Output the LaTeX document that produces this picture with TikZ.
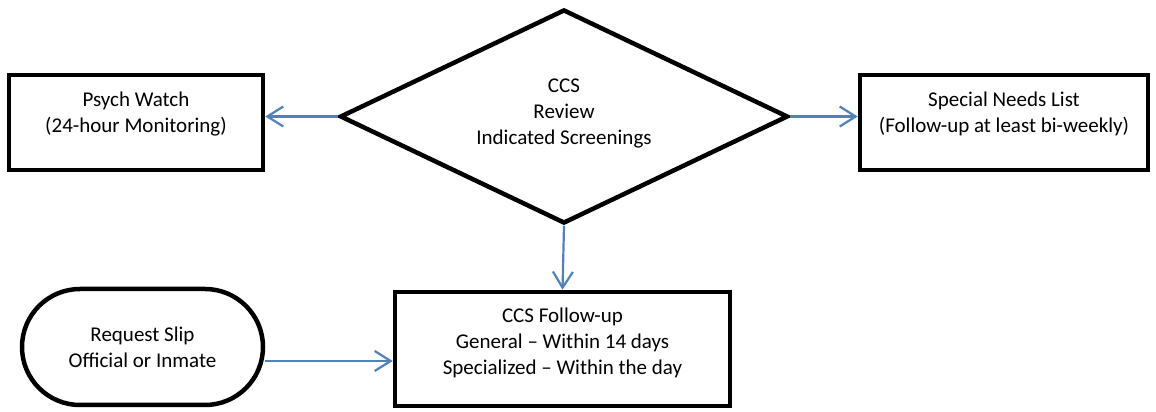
\documentclass[tikz,border=0pt]{standalone}
\usepackage{fontspec}
\setmainfont{Carlito}
\usetikzlibrary{shapes.geometric,arrows.meta}
\definecolor{flowblue}{RGB}{79,129,189}
\begin{document}
\begin{tikzpicture}[x=1pt,y=1pt,
  box/.style={draw, line width=4.5pt, rectangle, inner sep=0pt},
  txt/.style={align=center, font=\fontsize{21}{26}\selectfont},
  flow/.style={draw=flowblue, line width=2.2pt, -{Straight Barb[length=16pt,width=20pt,line width=2.2pt]}}]
\useasboundingbox (0,0) rectangle (1156,412);
\node[box, minimum width=254pt, minimum height=95pt] (psych) at (136,289.5){};
\node[txt] (psycht) at ([yshift=8pt]psych.center){Psych Watch\\(24-hour Monitoring)};
\node[box, diamond, line join=miter, minimum width=448pt, minimum height=214pt, aspect=2.1] (ccs) at (564,295.5){};
\node[txt] (ccst) at ([yshift=3pt]ccs.center){CCS\\Review\\Indicated Screenings};
\node[box, minimum width=288pt, minimum height=95pt] (special) at (1004,289.5){};
\node[txt] (specialt) at ([yshift=9pt]special.center){Special Needs List\\(Follow-up at least bi-weekly)};
\node[box, minimum width=335pt, minimum height=114pt] (followup) at (562.5,63){};
\node[txt] (followupt) at ([yshift=6pt]followup.center){CCS Follow-up\\General -- Within 14 days\\Specialized -- Within the day};
\node[box, rounded corners=58pt, minimum width=241pt, minimum height=116pt] (slip) at (142.5,65){};
\node[txt] (slipt) at (slip.center){Request Slip\\Official or Inmate};
\draw[flow] (ccs.west) -- (ccs.west -| psych.east);
\draw[flow] (ccs.east) -- (ccs.east -| special.west);
\draw[flow] (ccs.south) -- (followup.north);
\draw[flow] ([yshift=-14pt]slip.east) -- ([yshift=-14pt]slip.east -| followup.west);
\end{tikzpicture}
\end{document}
